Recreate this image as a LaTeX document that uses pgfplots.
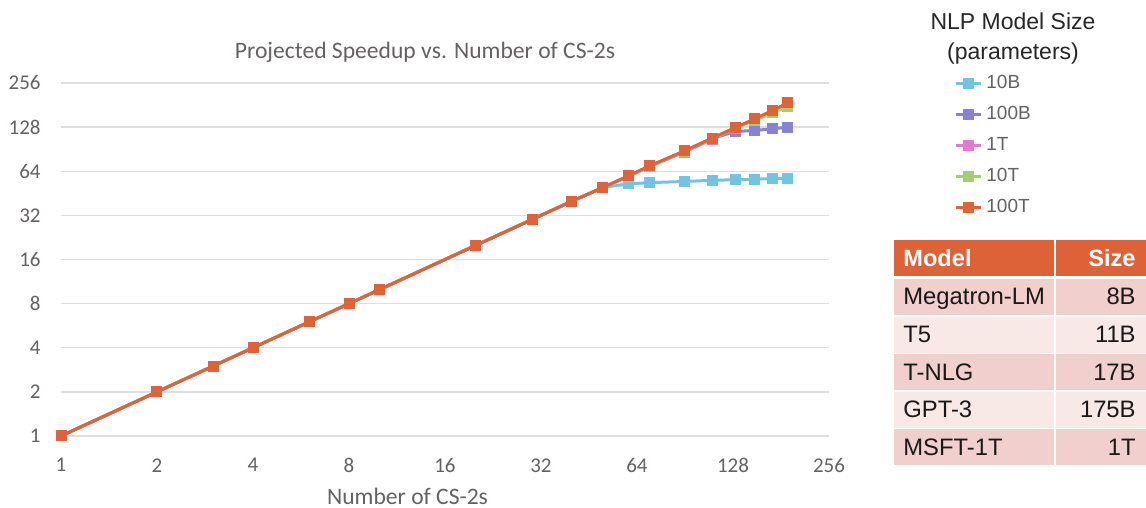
\documentclass[border=0pt]{standalone}
\usepackage{pgfplots}
\pgfplotsset{compat=1.18}
\usepackage{fontspec}
\setmainfont{Liberation Sans}
\newfontfamily\calfont{Carlito}
\definecolor{c10B}{RGB}{114,196,228}
\definecolor{c100B}{RGB}{136,130,212}
\definecolor{c1T}{RGB}{222,124,214}
\definecolor{c10T}{RGB}{164,208,108}
\definecolor{c100T}{RGB}{224,98,56}
\definecolor{gridc}{RGB}{222,222,222}
\definecolor{tickc}{RGB}{102,96,98}
\definecolor{hdr}{RGB}{222,98,56}
\definecolor{rowA}{RGB}{240,207,204}
\definecolor{rowB}{RGB}{248,232,230}
\begin{document}
\begin{tikzpicture}
\useasboundingbox (0,0) rectangle (573pt,254pt);
\begin{axis}[
  at={(30.5pt,36pt)}, anchor=south west,
  scale only axis, width=384pt, height=176.5pt,
  xmode=log, ymode=log, log basis x=2, log basis y=2,
  xmin=1, xmax=256, ymin=1, ymax=256,
  xtick={1,2,4,8,16,32,64,128,256},
  xticklabels={1,2,4,8,16,32,64,128,256},
  ytick={1,2,4,8,16,32,64,128,256},
  yticklabels={1,2,4,8,16,32,64,128,256},
  ymajorgrids, grid style={draw=gridc, line width=0.7pt},
  axis line style={draw=none},
  major tick style={draw=none}, minor tick style={draw=none},
  /pgf/number format/assume math mode=true,
  tick label style={font=\calfont\fontsize{10.5}{12}\selectfont, text=tickc, inner sep=0pt},
  xticklabel style={anchor=north, yshift=-11pt},
  yticklabel style={anchor=east, xshift=-10pt},
  clip=false,
  every axis plot/.append style={line width=1.5pt, mark=square*, mark size=2pt},
  legend image code/.code={\draw[mark repeat=2,mark phase=2] plot coordinates {(0pt,0pt)(6.25pt,0pt)(12.5pt,0pt)};},
  legend cell align=left,
  legend style={at={(axis description cs:1.1628,1.029)}, anchor=north west,
    draw=none, fill=none, inner sep=0pt, row sep=5.5pt, column sep=1.5pt,
    font=\fontsize{9.5}{11}\selectfont, text=tickc,
    nodes={inner sep=0.5pt, text height=7pt, text depth=2pt}},
]
\addplot[c10B, mark options={fill=c10B}] coordinates {
(1,1)(2,2)(3,3)(4,4)(6,6)(8,8)(10,10)(20,20)(30,30)(40,40)(50,49.5)(60,52.5)(70,53.5)(90,54.5)(110,55.5)(130,56)(150,56.5)(170,57)(190,57.5)};
\addlegendentry{10B}
\addplot[c100B, mark options={fill=c100B}] coordinates {
(1,1)(2,2)(3,3)(4,4)(6,6)(8,8)(10,10)(20,20)(30,30)(40,40)(50,49.5)(60,59)(70,69)(90,87.5)(110,107)(130,119.5)(150,121.5)(170,124.5)(190,128)};
\addlegendentry{100B}
\addplot[c1T, mark options={fill=c1T}] coordinates {
(1,1)(2,2)(3,3)(4,4)(6,6)(8,8)(10,10)(20,20)(30,30)(40,40)(50,49.5)(60,59)(70,69)(90,86.5)(110,105.5)(130,125.5)(150,145)(170,165)(190,185)};
\addlegendentry{1T}
\addplot[c10T, mark options={fill=c10T}] coordinates {
(1,1)(2,2)(3,3)(4,4)(6,6)(8,8)(10,10)(20,20)(30,30)(40,40)(50,49.5)(60,59)(70,69)(90,87.5)(110,107)(130,126.5)(150,143)(170,160)(190,177)};
\addlegendentry{10T}
\addplot[c100T, mark options={fill=c100T}] coordinates {
(1,1)(2,2)(3,3)(4,4)(6,6)(8,8)(10,10)(20,20)(30,30)(40,40)(50,49.5)(60,59.5)(70,69.5)(90,88)(110,107.5)(130,127)(150,146)(170,166)(190,187)};
\addlegendentry{100T}
\end{axis}
% chart title and axis title
\node[anchor=base, font=\calfont\fontsize{11.8}{13}\selectfont, text=tickc] at (212.5pt,224.5pt) {Projected Speedup vs. Number of CS-2s};
\node[anchor=base, font=\calfont\fontsize{11.8}{13}\selectfont, text=tickc] at (203.75pt,1.5pt) {Number of CS-2s};
% legend title
\node[align=center, font=\fontsize{11.5}{15}\selectfont, text=black!85, inner sep=0pt] at (506.5pt,234.5pt) {NLP Model Size\\(parameters)};
% table
\fill[hdr] (447pt,134pt) rectangle (527pt,116pt);
\fill[hdr] (528pt,134pt) rectangle (573pt,116pt);
\foreach \i/\c in {0/rowA,1/rowB,2/rowA,3/rowB,4/rowA}{
  \pgfmathsetmacro{\top}{114.5-18.8*\i}
  \pgfmathsetmacro{\bot}{\top-18}
  \fill[\c] (447pt,\top pt) rectangle (527pt,\bot pt);
  \fill[\c] (528pt,\top pt) rectangle (573pt,\bot pt);
}
\node[anchor=base west, font=\bfseries\fontsize{11.8}{13}\selectfont, text=white, inner sep=0pt] at (451.5pt,120.5pt) {Model};
\node[anchor=base east, font=\bfseries\fontsize{11.8}{13}\selectfont, text=white, inner sep=0pt] at (568pt,120.5pt) {Size};
\foreach \i/\m/\s in {0/Megatron-LM/8B,1/T5/11B,2/T-NLG/17B,3/GPT-3/175B,4/MSFT-1T/1T}{
  \pgfmathsetmacro{\bl}{101.5-18.8*\i}
  \node[anchor=base west, font=\fontsize{11.9}{13}\selectfont, text=black!90, inner sep=0pt] at (451.5pt,\bl pt) {\m};
  \node[anchor=base east, font=\fontsize{11.9}{13}\selectfont, text=black!90, inner sep=0pt] at (568pt,\bl pt) {\s};
}
\end{tikzpicture}
\end{document}
